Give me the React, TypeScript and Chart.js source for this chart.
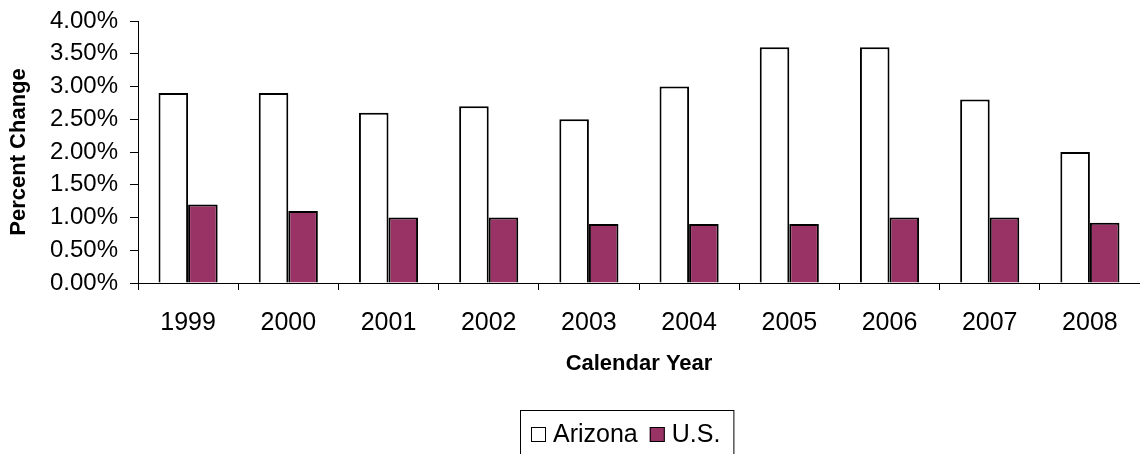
import React, { useEffect, useRef } from "react";
import { Chart, registerables } from "chart.js";

Chart.register(...registerables);

const years = ["1999", "2000", "2001", "2002", "2003", "2004", "2005", "2006", "2007", "2008"];
const arizona = [2.9, 2.9, 2.6, 2.7, 2.5, 3.0, 3.6, 3.6, 2.8, 2.0];
const us = [1.2, 1.1, 1.0, 1.0, 0.9, 0.9, 0.9, 1.0, 1.0, 0.92];
const seriesNames = ["Arizona", "U.S."];
const xTitle = "Calendar Year";
const yTitle = "Percent Change";

const FONT = '"Liberation Sans", Arial, sans-serif';

const boxedLegend = {
  id: "boxedLegend",
  afterDraw(chart: any) {
    const ctx = chart.ctx as CanvasRenderingContext2D;
    ctx.save();
    ctx.font = `25px ${FONT}`;
    const items = chart.data.datasets.map((ds: any) => ({
      label: ds.label as string,
      fill: ds.backgroundColor as string,
      w: ctx.measureText(ds.label).width,
    }));
    const box = 15, gapBT = 7, itemGap = 12, padL = 11, padR = 13;
    const total =
      padL +
      items.reduce((s: number, it: any) => s + box + gapBT + it.w, 0) +
      itemGap * (items.length - 1) +
      padR;
    const cx = 626.5;
    const left = Math.round(cx - total / 2);
    const top = 410;
    const midY = 434;
    ctx.strokeStyle = "#000";
    ctx.lineWidth = 1;
    ctx.strokeRect(left + 0.5, top + 0.5, total, 80);
    let x = left + padL;
    items.forEach((it: any) => {
      ctx.fillStyle = it.fill;
      ctx.fillRect(x, midY - 7, box, box);
      ctx.strokeRect(x + 0.5, midY - 7 + 0.5, box - 1, box - 1);
      x += box + gapBT;
      ctx.fillStyle = "#000";
      ctx.textBaseline = "middle";
      ctx.textAlign = "left";
      ctx.fillText(it.label, x, midY + 1);
      x += it.w + itemGap;
    });
    ctx.restore();
  },
};

export default function App() {
  const ref = useRef<HTMLCanvasElement | null>(null);

  useEffect(() => {
    document.body.style.margin = "0";
    document.body.style.overflow = "hidden";
    const canvas = ref.current;
    if (!canvas) return;
    const chart = new Chart(canvas, {
      type: "bar",
      data: {
        labels: years,
        datasets: [
          {
            label: seriesNames[0],
            data: arizona,
            backgroundColor: "#ffffff",
            borderColor: "#000000",
            borderWidth: 2,
            categoryPercentage: 0.59,
            barPercentage: 1,
          },
          {
            label: seriesNames[1],
            data: us,
            backgroundColor: "#993366",
            borderColor: "#000000",
            borderWidth: 2,
            categoryPercentage: 0.59,
            barPercentage: 1,
          },
        ],
      },
      options: {
        responsive: false,
        animation: false,
        layout: { padding: { top: 21, right: 0, bottom: 75, left: 0 } },
        plugins: {
          legend: { display: false },
          tooltip: { enabled: false },
        },
        scales: {
          x: {
            grid: { drawOnChartArea: false, tickLength: 7, color: "#000", offset: true },
            border: { color: "#000", width: 1 },
            ticks: { color: "#000", font: { family: FONT, size: 25 }, padding: 18, maxRotation: 0 },
            title: {
              display: true,
              text: xTitle,
              color: "#000",
              font: { family: FONT, size: 22, weight: "bold" },
              padding: { top: 0, bottom: 2 },
            },
            afterFit: (s: any) => {
              s.height = 96;
              s.paddingLeft = 0;
              s.paddingRight = 0;
            },
          },
          y: {
            min: 0,
            max: 4,
            ticks: {
              stepSize: 0.5,
              callback: (v: any) => Number(v).toFixed(2) + "%",
              color: "#000",
              font: { family: FONT, size: 24 },
              padding: 12,
            },
            grid: { drawOnChartArea: false, tickLength: 8, color: "#000" },
            border: { color: "#000", width: 1 },
            title: {
              display: true,
              text: yTitle,
              color: "#000",
              font: { family: FONT, size: 22, weight: "bold" },
              padding: { top: 6, bottom: 0 },
            },
            afterFit: (s: any) => {
              s.width = 138;
              s.paddingTop = 0;
              s.paddingBottom = 0;
            },
          },
        },
      },
      plugins: [boxedLegend],
    } as any);
    return () => chart.destroy();
  }, []);

  return <canvas ref={ref} width={1140} height={454} style={{ display: "block" }} />;
}
